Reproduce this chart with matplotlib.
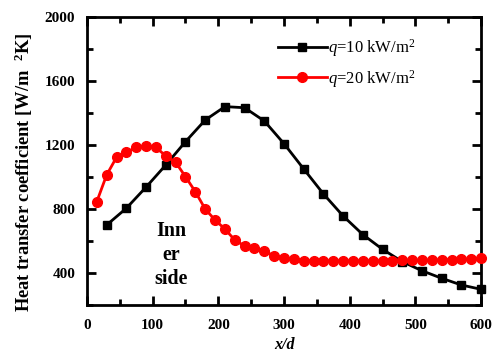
import matplotlib
matplotlib.use("Agg")
import matplotlib.pyplot as plt
from matplotlib.ticker import MultipleLocator

plt.rcParams['font.family'] = ['Liberation Serif', 'DejaVu Serif']
plt.rcParams['mathtext.fontset'] = 'custom'
plt.rcParams['mathtext.rm'] = 'Liberation Serif'
plt.rcParams['mathtext.it'] = 'Liberation Serif:italic'
plt.rcParams['mathtext.bf'] = 'Liberation Serif:bold'

x10 = [30, 60, 90, 120, 150, 180, 210, 240, 270, 300, 330, 360, 390, 420, 450, 480, 510, 540, 570, 600]
h10 = [700, 805, 937, 1075, 1221, 1356, 1440, 1433, 1350, 1208, 1050, 894, 756, 640, 548, 471, 414, 367, 325, 298]

x20 = [15, 30, 45, 60, 75, 90, 105, 120, 135, 150, 165, 180, 195, 210, 225, 240, 255, 270, 285, 300,
       315, 330, 345, 360, 375, 390, 405, 420, 435, 450, 465, 480, 495, 510, 525, 540, 555, 570, 585, 600]
h20 = [846, 1013, 1123, 1154, 1186, 1194, 1186, 1131, 1092, 1002, 908, 800, 731, 675, 606, 569, 558, 538, 506, 492,
       486, 478, 477, 477, 477, 477, 477, 477, 477, 477, 477, 479, 480, 480, 481, 483, 484, 486, 489, 494]

fig = plt.figure(figsize=(4.94, 3.58), dpi=100)
ax = fig.add_axes([0.176, 0.148, 0.798, 0.8045])

ax.plot(x10, h10, color='black', lw=2, marker='s', ms=5.5, label=r'$q$=10 kW/m$^{2}$', clip_on=False, zorder=3)
ax.plot(x20, h20, color='red', lw=2, marker='o', ms=7, label=r'$q$=20 kW/m$^{2}$', clip_on=False, zorder=3)

ax.set_xlim(0, 600)
ax.set_ylim(200, 2000)
ax.xaxis.set_major_locator(MultipleLocator(100))
ax.xaxis.set_minor_locator(MultipleLocator(50))
ax.yaxis.set_minor_locator(MultipleLocator(200))
ax.set_yticks([400, 800, 1200, 1600, 2000])
ax.tick_params(which='both', direction='in', top=True, right=True, width=2)
ax.tick_params(which='major', length=6.5, labelsize=11)
ax.tick_params(which='minor', length=4)
ax.tick_params(axis='y', which='major', pad=8.5)
ax.tick_params(axis='x', which='major', pad=10)
for lab in ax.get_xticklabels() + ax.get_yticklabels():
    lab.set_fontweight('bold')
for s in ax.spines.values():
    s.set_linewidth(2)

ax.set_xlabel('x/d', fontsize=11.5, fontweight='bold', fontstyle='italic', labelpad=4)
ax.set_ylabel(r'Heat transfer coefficient [W/m  $\mathbf{^{2}}$K]', fontsize=13.3, fontweight='bold')
ax.yaxis.set_label_coords(-0.132, 0.462)

ax.text(128, 512, 'Inn\ner\nside', ha='center', va='center', fontsize=14.4, fontweight='bold', linespacing=1.25)

leg = ax.legend(loc='center left', bbox_to_anchor=(0.4835, 0.8385), frameon=False, fontsize=12,
                handlelength=2.97, handletextpad=0.05, labelspacing=0.5, borderpad=0, borderaxespad=0)

fig.savefig('out.png', dpi=100)
